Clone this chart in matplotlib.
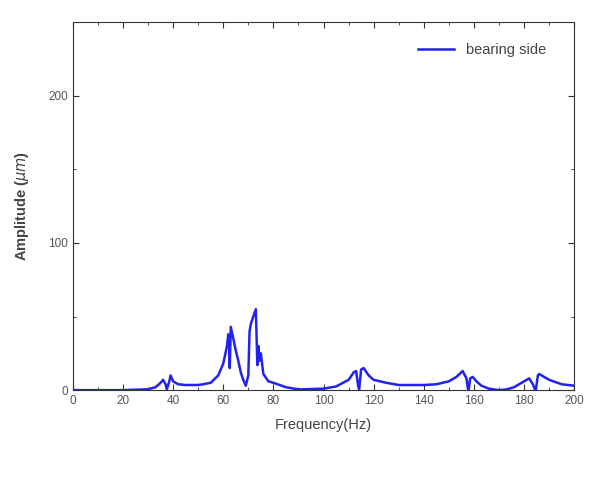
import matplotlib
matplotlib.use("Agg")
import matplotlib.pyplot as plt
from matplotlib.ticker import MultipleLocator

plt.rcParams['font.family'] = ['Liberation Sans', 'DejaVu Sans']

freq = [0, 10, 20, 25, 30, 33, 35, 36, 37, 37.5, 38.5, 39, 40, 42, 45, 50, 52, 55, 58, 60, 61.5,
        62, 62.4, 62.6, 63, 64, 65, 66, 67, 68, 69, 70, 70.5, 71, 72, 73, 73.4, 73.6, 74, 74.5,
        75, 76, 78, 80, 85, 90, 100, 105, 110, 112, 113, 113.8, 114.2, 115, 116, 118, 120, 125,
        130, 140, 145, 150, 153, 155.5, 157, 157.6, 157.9, 158.5, 159.5, 161, 163, 166, 170, 173,
        176, 179, 182, 183.5, 184.3, 184.7, 185.5, 186, 188, 190, 195, 200]
amp = [0, 0, 0, 0.3, 0.6, 2, 5, 7, 4, 0.5, 6, 10, 6, 4, 3.5, 3.5, 4, 5, 10, 18, 30,
       38, 28, 15, 43, 35, 27, 20, 12, 7, 3, 10, 40, 45, 50, 55, 30, 17, 30, 20,
       25, 11, 6, 5, 2, 0.5, 1, 2.5, 7, 12, 13, 3, 0.5, 14, 15, 10, 7, 5,
       3.5, 3.5, 4, 6, 9, 13, 8, 1, 0.5, 8, 9, 6, 3, 1, 0, 0.5,
       2, 5, 8, 4, 0.5, 0.5, 10, 11, 9, 7, 4, 3]

fig = plt.figure(figsize=(5.92, 4.92), dpi=100)
ax = fig.add_axes([0.123, 0.207, 0.847, 0.748])
ax.plot(freq, amp, color='#2222ee', lw=1.8, label='bearing side')
ax.set_xlim(0, 200)
ax.set_ylim(0, 250)
ax.xaxis.set_major_locator(MultipleLocator(20))
ax.xaxis.set_minor_locator(MultipleLocator(10))
ax.yaxis.set_major_locator(MultipleLocator(100))
ax.yaxis.set_minor_locator(MultipleLocator(50))
ax.tick_params(which='both', direction='in', top=True, right=True, labelsize=8.5,
               labelcolor='#555555', color='#333333')
ax.tick_params(which='major', length=4)
ax.tick_params(which='minor', length=2.5)
for s in ax.spines.values():
    s.set_color('#333333')
ax.set_xlabel('Frequency(Hz)', fontsize=10.5, color='#444444', labelpad=8)
ax.set_ylabel(r'Amplitude ($\mu m$)', fontsize=10.5, color='#444444', fontweight='bold', labelpad=12)
leg = ax.legend(loc='upper right', frameon=False, fontsize=10.5, handlelength=2.5,
                bbox_to_anchor=(0.97, 0.98))
for t in leg.get_texts():
    t.set_color('#444444')
fig.savefig('out.png', dpi=100)
